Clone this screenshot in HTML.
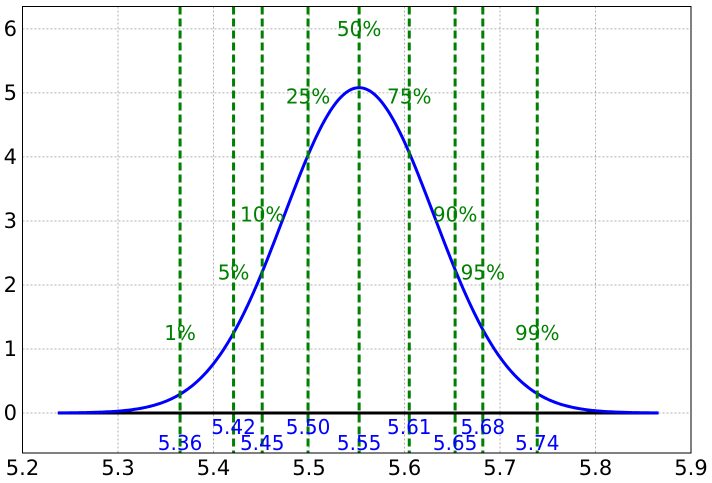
<!DOCTYPE html>
<html><head><meta charset="utf-8"><style>
html,body{margin:0;padding:0;background:#fff;}
svg{display:block;font-family:"DejaVu Sans","Liberation Sans",sans-serif;}
</style></head><body>
<svg id="chart" width="712" height="483"></svg>
<script>
const xTicks=[5.2,5.3,5.4,5.5,5.6,5.7,5.8,5.9];
const yTicks=[0,1,2,3,4,5,6];
const mean=5.5525, sigma=0.0785;
const curveRange=[5.237,5.866];
const pctLabels=["1%","5%","10%","25%","50%","75%","90%","95%","99%"];
const pctValues=[5.365,5.421,5.451,5.499,5.5525,5.605,5.653,5.682,5.739];
const valueLabels=["5.36","5.42","5.45","5.50","5.55","5.61","5.65","5.68","5.74"];
const pctLabelY=[1.2,2.15,3.05,4.9,5.95,4.9,3.05,2.15,1.2];

const L=22.5,R=691,T=6.5,B=453;
const xMin=5.2,xMax=5.9,yMin=-0.625,yMax=6.35;
const X=v=>L+(v-xMin)/(xMax-xMin)*(R-L);
const Y=v=>B-(v-yMin)/(yMax-yMin)*(B-T);
const NS="http://www.w3.org/2000/svg";
const svg=document.getElementById('chart');
function mk(t,a,p){const e=document.createElementNS(NS,t);for(const k in a)e.setAttribute(k,a[k]);(p||svg).appendChild(e);return e;}

const grid=mk('g',{});


xTicks.forEach(v=>{mk('line',{x1:X(v),x2:X(v),y1:T,y2:B,stroke:'#b0b0b0','stroke-dasharray':'2,2','stroke-width':1},grid);});
yTicks.forEach(v=>{mk('line',{x1:L,x2:R,y1:Y(v),y2:Y(v),stroke:'#b0b0b0','stroke-dasharray':'2,2','stroke-width':1},grid);});

const xl=mk('g',{});


xTicks.forEach(v=>{const t=mk('text',{x:X(v),y:475,'font-size':21,'text-anchor':'middle',fill:'#000'},xl);t.textContent=v.toFixed(1);});
const yl=mk('g',{});


yTicks.forEach(v=>{const t=mk('text',{x:17,y:Y(v)+7,'font-size':21,'text-anchor':'end',fill:'#000'},yl);t.textContent=v;});

let d='';const N=300;
for(let i=0;i<=N;i++){const x=curveRange[0]+(curveRange[1]-curveRange[0])*i/N;const y=Math.exp(-0.5*((x-mean)/sigma)**2)/(sigma*Math.sqrt(2*Math.PI));d+=(i?'L':'M')+X(x).toFixed(2)+','+Y(y).toFixed(2);}
const base=mk('line',{x1:X(curveRange[0]),x2:X(curveRange[1]),y1:Y(0),y2:Y(0),stroke:'#000','stroke-width':3});


const curve=mk('path',{d:d,fill:'none',stroke:'#0000ff','stroke-width':3});



pctValues.forEach((v,i)=>{
  const ln=mk('line',{x1:X(v),x2:X(v),y1:T,y2:B,stroke:'#008000','stroke-width':3,'stroke-dasharray':'8,4'});
  
  
  const t=mk('text',{x:X(v),y:Y(pctLabelY[i])+4,'font-size':20,'text-anchor':'middle',fill:'#008000'});
  t.textContent=pctLabels[i];
  
  
  const vt=mk('text',{x:X(v),y:(i%2===0?450:434),'font-size':20,'text-anchor':'middle',fill:'#0000ff'});
  vt.textContent=valueLabels[i];
  
  
});
const frame=mk('rect',{x:L,y:T,width:R-L,height:B-T,fill:'none',stroke:'#000','stroke-width':1});


</script>
</body></html>
